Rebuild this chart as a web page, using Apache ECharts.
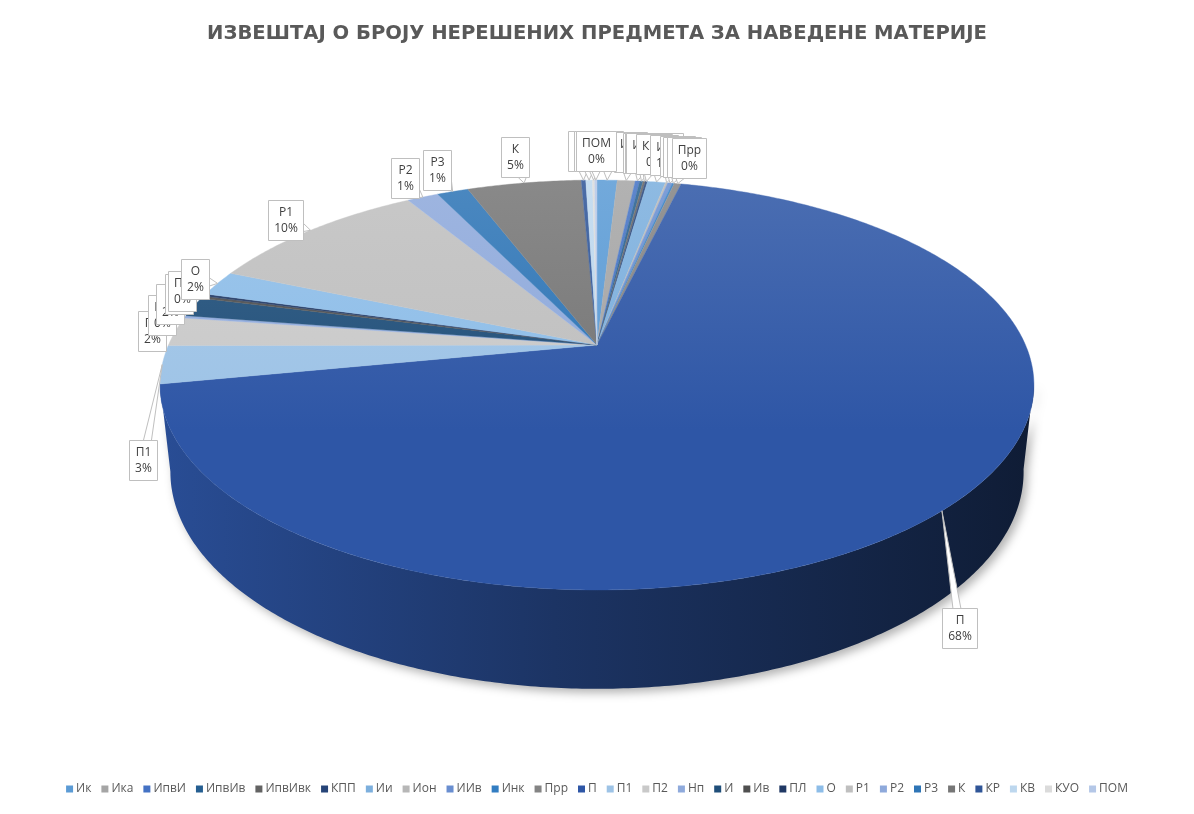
<!DOCTYPE html>
<html>
<head>
<meta charset="utf-8">
<title>Извештај о броју нерешених предмета</title>
<script src="https://cdn.jsdelivr.net/npm/echarts@6/dist/echarts.min.js"></script>
<style>
    html, body { margin: 0; padding: 0; background: #fff; }
    #chart { width: 1194px; height: 814px; }
</style>
</head>
<body>
<div id="chart"></div>
<script>
// materije, redom od vrha pite u smeru kazaljke (isto kao legenda)
var categories = ['Ик', 'Ика', 'ИпвИ', 'ИпвИв', 'ИпвИвк', 'КПП', 'Ии', 'Ион', 'ИИв', 'Инк', 'Прр',
    'П', 'П1', 'П2', 'Нп', 'И', 'Ив', 'ПЛ', 'О', 'Р1', 'Р2', 'Р3', 'К', 'КР', 'КВ', 'КУО', 'ПОМ'];
// udeo u % (procenjen sa slike)
var shares = [0.9, 0.8, 0.2, 0.15, 0.1, 0.1, 0.8, 0.1, 0.2, 0.1, 0.3,
    68.2, 3.0, 2.3, 0.2, 1.55, 0.2, 0.2, 2.0, 10.0, 1.4, 1.4, 5.1, 0.2, 0.3, 0.1, 0.1];
var title = 'ИЗВЕШТАЈ О БРОЈУ НЕРЕШЕНИХ ПРЕДМЕТА ЗА НАВЕДЕНЕ МАТЕРИЈЕ';

var colors = ['#5B9BD5', '#A5A5A5', '#4472C4', '#255E91', '#636363', '#264478', '#7CAFDD', '#B7B7B7',
    '#698ED0', '#327DC2', '#848484', '#2E56A6', '#9DC3E6', '#C9C9C9', '#8FAADC', '#1F4E79', '#4F4F4F',
    '#203864', '#8DBDE8', '#BFBFBF', '#8EA9DB', '#2E75B6', '#767676', '#2F5597', '#BDD7EE', '#DBDBDB', '#B4C7E7'];

// 3D pogled na pitu (perspektiva)
var CX = 597, CY = 345, F = 1948, DIST = 4.546, SIN = 0.46, COS = 0.888, THICK = 0.23;
var TAU = Math.PI * 2;
var FONT = '12px "Open Sans"';

function project(theta, y) {
    var x = Math.sin(theta), z = -Math.cos(theta);
    var yp = y * COS - z * SIN;
    var d = DIST - z * COS - y * SIN;
    return [CX + F * x / d, CY - F * yp / d];
}

function shade(hex, k) {
    var n = parseInt(hex.slice(1), 16);
    var rgb = [(n >> 16) & 255, (n >> 8) & 255, n & 255].map(function (v) {
        v = k < 0 ? v * (1 + k) : v + (255 - v) * k;
        return Math.max(0, Math.min(255, Math.round(v)));
    });
    return 'rgb(' + rgb.join(',') + ')';
}

var ctx = document.createElement('canvas').getContext('2d');
ctx.font = FONT;
function textW(s) { return ctx.measureText(s).width; }

var total = shares.reduce(function (s, v) { return s + v; }, 0);
var bounds = [];
var acc = 0;
shares.forEach(function (v) {
    bounds.push([acc / total, (acc + v) / total, v / total * 100]);
    acc += v;
});

function arcPoints(a0, a1, y) {
    var pts = [];
    var n = Math.max(2, Math.ceil((a1 - a0) / 0.01));
    for (var k = 0; k <= n; k++) pts.push(project(a0 + (a1 - a0) * k / n, y));
    return pts;
}

function drawWall(i, api) {
    var lo = Math.max(api.value(0) * TAU, Math.PI / 2 + 0.18);
    var hi = Math.min(api.value(1) * TAU, Math.PI * 1.5 - 0.19);
    if (hi <= lo) return { type: 'group', children: [] };
    var pts = arcPoints(lo, hi, 0).concat(arcPoints(lo, hi, -THICK).reverse());
    var c = colors[i];
    return {
        type: 'polygon',
        shape: { points: pts },
        style: {
            fill: new echarts.graphic.LinearGradient(160, 0, 1035, 0, [
                { offset: 0, color: shade(c, -0.1) },
                { offset: 0.45, color: shade(c, -0.4) },
                { offset: 1, color: shade(c, -0.68) }
            ], true),
            shadowBlur: 10,
            shadowColor: 'rgba(0,0,0,0.3)',
            shadowOffsetX: 4,
            shadowOffsetY: 4
        }
    };
}

function drawTop(i, api) {
    var a0 = api.value(0) * TAU, a1 = api.value(1) * TAU;
    var pts = [[CX, CY]].concat(arcPoints(a0, a1, 0));
    var c = colors[i];
    var fill = new echarts.graphic.LinearGradient(0, 180, 0, 430, [
        { offset: 0, color: shade(c, 0.14) },
        { offset: 1, color: c }
    ], true);
    return {
        type: 'polygon',
        shape: { points: pts },
        style: { fill: fill, stroke: fill, lineWidth: 0.4 }
    };
}

function drawLabel(i, api) {
    var a0 = api.value(0) * TAU, a1 = api.value(1) * TAU, pct = api.value(2);
    var mid = (a0 + a1) / 2;
    var tip = project(mid, 0);
    var front = -Math.cos(mid) > 0;
    var base = front ? project(mid, -THICK) : tip;
    var gap = front ? 16 : 9;
    var dx = base[0] - CX, dy = base[1] - CY;
    var len = Math.sqrt(dx * dx + dy * dy);
    dx /= len; dy /= len;
    var lines = [categories[i], Math.round(pct) + '%'];
    var w = Math.round(Math.max(textW(lines[0]), textW(lines[1])) + 11);
    var h = 40;
    var cx = base[0] + dx * (gap + w / 2), cy = base[1] + dy * (gap + h / 2);
    var bx = Math.round(cx - w / 2) + 0.5, by = Math.round(cy - h / 2) + 0.5;
    cx = bx + w / 2; cy = by + h / 2;

    var children = [];
    var vx = tip[0] - cx, vy = tip[1] - cy;
    var t = Math.min((w / 2) / Math.abs(vx || 1e-6), (h / 2) / Math.abs(vy || 1e-6));
    if (t < 1) {
        var B = [cx + vx * t, cy + vy * t];
        var b1, b2;
        if (Math.abs(B[1] - by) < 0.01 || Math.abs(B[1] - (by + h)) < 0.01) {
            var xb = Math.max(bx + 5, Math.min(bx + w - 5, B[0]));
            b1 = [xb - 4, B[1]]; b2 = [xb + 4, B[1]];
        } else {
            var yb = Math.max(by + 5, Math.min(by + h - 5, B[1]));
            b1 = [B[0], yb - 4]; b2 = [B[0], yb + 4];
        }
        children.push({
            type: 'polygon',
            shape: { points: [b1, tip, b2] },
            style: { fill: '#fff', stroke: '#BFBFBF', lineWidth: 1 }
        });
    }
    children.push({
        type: 'rect',
        shape: { x: bx, y: by, width: w, height: h },
        style: { fill: '#fff', stroke: '#BFBFBF', lineWidth: 1 }
    });
    children.push({
        type: 'text',
        style: {
            text: lines.join('\n'), x: cx, y: cy, align: 'center', verticalAlign: 'middle',
            fill: '#404040', font: FONT, lineHeight: 16
        }
    });
    return { type: 'group', children: children };
}

var layers = [drawWall, drawTop, drawLabel];
var series = [];
categories.forEach(function (name, i) {
    layers.forEach(function (fn, j) {
        series.push({
            type: 'custom',
            name: name,
            coordinateSystem: 'none',
            z: j + 1,
            silent: true,
            animation: false,
            itemStyle: { color: colors[i] },
            data: [bounds[i]],
            renderItem: function (params, api) { return fn(i, api); }
        });
    });
});

var chart = echarts.init(document.getElementById('chart'));
chart.setOption({
    backgroundColor: '#fff',
    animation: false,
    title: {
        text: title,
        left: 'center',
        top: 19,
        textStyle: { fontFamily: 'DejaVu Sans', fontSize: 19.6, fontWeight: 'bold', color: '#595959' }
    },
    legend: {
        data: categories,
        bottom: 14,
        left: 'center',
        width: '98%',
        icon: 'rect',
        itemWidth: 7,
        itemHeight: 7,
        itemGap: 10,
        textStyle: { fontFamily: 'Open Sans', fontSize: 12, color: '#595959', padding: [0, 0, 0, -2] }
    },
    series: series
});
</script>
</body>
</html>
